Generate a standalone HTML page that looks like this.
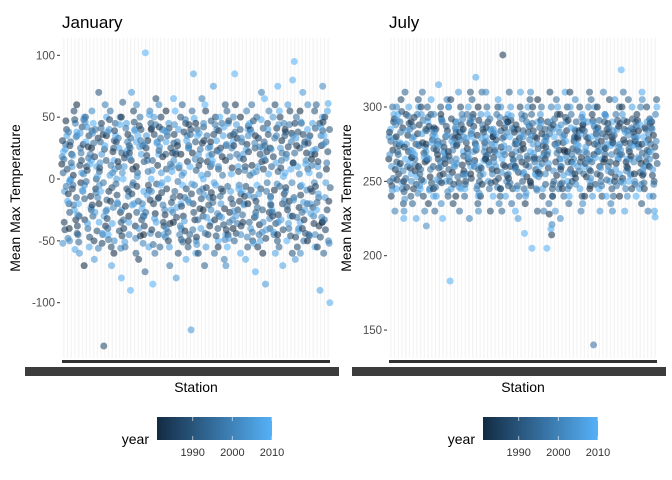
<!DOCTYPE html>
<html><head><meta charset="utf-8"><style>
body{margin:0;background:#fff;}
svg{display:block;font-family:"Liberation Sans",sans-serif;}
</style></head><body>
<svg id="c" width="672" height="480"></svg>
<script>
const years=[1981,1984,1987,1990,1993,1996,1999,2002,2005,2007,2009,2010,1982,1983,1985,1986,1988,1991,1994,1997,2000,2003,2006,2008];
const janTicks=[100,50,0,-50,-100];
const julTicks=[300,250,200,150];
const legendTicks=[1990,2000,2010];
const janTemps=[
[12,-35,40,-20,5,28,-48,18,-10,35,-2,22, 47,-12,31,-41,8,-27,16,-6,38,-52,24,-18],
[-40,20,55,-15,30,-5,45,-50,10,-25,38,0, 3,-33,27,-8,48,-44,13,-21,34,-1,19,-57],
[60,-30,15,48,-45,25,-10,35,-60,5,50,-20, -3,28,-38,11,42,-16,-51,21,4,-29,37,-9],
[-70,10,35,-25,50,-40,20,-5,42,-55,15,30, 26,-14,-33,7,-47,39,-2,17,-23,46,-36,12],
[25,-50,0,70,-30,40,-15,55,-65,10,-35,45, -8,33,-21,18,-42,6,29,-11,-56,37,-27,2],
[-20,45,-135,15,30,-45,60,-5,20,-30,50,-10, 36,-38,9,-52,24,-17,41,-3,-26,13,-44,27],
[35,-10,-55,25,-40,55,5,-25,40,-70,15,-45, -18,22,-32,48,-7,31,-49,11,-23,38,3,-36],
[-60,30,10,-35,45,-20,50,-50,0,25,-80,35, 14,-27,39,-13,-42,21,-4,33,-56,8,-19,44],
[50,-40,20,-10,62,-55,30,-25,10,45,-35,0, -22,36,-46,17,-8,27,-33,41,-14,5,-51,23],
[-30,15,55,-60,25,-5,40,-45,70,-20,30,-90, 8,-38,21,-12,46,-27,33,-3,-48,17,-21,39],
[10,-65,40,-30,5,50,-20,60,-40,20,-10,35, -46,27,-6,43,-33,14,-18,31,-52,2,26,-24],
[-45,25,-5,45,-75,15,55,-30,35,-55,0,102, 31,-17,-38,19,-9,41,-27,6,-44,28,-13,52],
[40,-20,65,-45,15,-60,30,-10,50,-35,20,-85, -28,11,-41,36,-4,23,-53,44,-16,7,-32,29],
[-15,50,-35,20,-55,40,-25,60,5,-45,30,-5, 18,-29,42,-11,-38,8,33,-21,-47,26,-3,39],
[55,-50,25,-15,35,-70,10,-40,45,-25,65,0, -36,21,-8,41,-19,29,-43,12,-27,38,-55,6],
[-35,20,-60,50,-10,30,-45,15,-80,40,-20,55, 27,-14,36,-31,9,-49,22,-2,-38,44,-23,11],
[20,-30,45,-55,60,-15,35,-40,5,-65,25,-5, -42,14,-22,38,-8,27,-51,48,-17,3,-34,31],
[-50,40,-20,30,-45,55,-5,25,-122,85,-60,10, 21,-33,44,-12,-27,7,36,-41,16,-19,-4,49],
[45,-60,15,-30,40,-10,65,-50,20,-40,0,35, -24,29,-47,11,-16,42,-33,24,-8,-53,37,3],
[-25,55,-45,10,-70,35,-15,45,-55,25,-35,60, 14,-38,31,-7,-21,47,-44,4,26,-13,-31,19],
[30,-15,50,-40,20,-60,40,-25,75,-5,-50,15, -33,23,-11,36,-46,8,-19,44,-28,12,-3,31],
[-55,25,-10,60,-30,45,-65,10,-20,35,-45,50, 18,-24,39,-8,-37,27,-14,3,-49,22,-31,42],
[15,-45,35,-20,55,-35,25,-70,45,-10,30,-55, -27,9,-41,47,-16,36,-6,18,-33,28,-48,4],
[-40,60,-25,40,-50,20,-5,50,-30,10,-60,85, 33,-18,27,-44,6,-12,38,-36,17,-26,44,-8],
[50,-35,10,-55,30,-20,55,-45,20,-65,40,-10, -14,28,-38,16,-6,43,-29,7,-47,33,-21,24],
[-20,40,-50,25,-35,60,-15,35,-40,5,-75,45, 11,-31,22,-9,47,-27,3,-43,29,-13,38,-52],
[35,-55,20,-25,50,-45,70,-30,10,-50,25,-5, -37,14,-18,33,-8,41,-23,26,-43,6,-12,48],
[-60,15,45,-40,30,-10,55,-35,-85,40,-20,65, 22,-27,8,-48,36,-14,27,-3,-32,17,-41,4],
[25,-30,60,-50,10,-45,35,-15,50,-60,75,-25, -9,41,-21,18,-36,6,-27,33,-4,24,-43,13],
[-45,50,-20,35,-55,15,45,-35,25,-70,5,55, 31,-12,-29,9,-41,38,-6,21,-17,44,-33,2],
[40,-25,55,-60,20,-40,30,-10,60,-30,80,-50, -18,37,-7,26,-46,13,-22,44,-3,17,-36,8],
[-30,45,-55,25,-15,50,-40,35,-65,10,-35,95, 27,-23,13,-47,38,-6,21,-31,4,-17,33,-42],
[55,-40,30,-20,45,-50,15,-60,70,-25,40,-5, -33,21,-13,36,-44,8,-27,28,-9,46,-19,12],
[-50,35,-10,55,-45,20,-30,60,-20,45,-55,5, 16,-36,29,-8,-23,41,-46,11,-3,33,-28,23],
[20,-55,45,-35,60,-15,35,-45,10,-90,50,-25, -38,27,-6,14,-47,39,-19,3,-31,24,-12,42],
[-35,50,-25,40,-60,30,-50,75,-15,55,-100,35, 8,-18,46,-41,22,-7,-33,13,-52,28,-3,61]];
const julTemps=[
[265,240,290,275,250,300,230,280,260,295,245,285, 271,258,283,247,292,263,277,252,288,268,244,279],
[280,255,305,235,270,290,245,300,260,275,225,295, 262,286,251,274,297,243,268,283,257,291,276,249],
[250,295,270,240,310,260,285,230,275,300,255,265, 281,259,273,246,289,266,252,294,271,238,284,262],
[290,245,275,305,235,265,295,250,280,225,300,270, 257,282,266,293,248,274,287,261,242,279,268,253],
[260,300,240,285,255,310,230,275,295,250,270,245, 276,263,288,251,269,284,258,291,273,247,282,266],
[275,235,295,260,300,245,285,220,265,305,240,290, 253,278,264,287,249,272,293,258,281,266,244,276],
[245,285,265,300,230,275,250,295,240,315,260,280, 268,254,286,271,259,292,246,277,263,283,251,274],
[295,255,280,240,290,265,305,235,270,250,300,225, 262,284,249,273,287,258,276,266,243,291,269,281],
[270,305,235,290,250,280,260,300,245,275,285,183, 256,279,267,292,248,283,264,271,286,253,277,261],
[240,280,300,255,275,230,295,265,310,245,270,290, 283,261,274,249,288,267,253,278,292,262,246,284],
[285,250,265,310,240,295,225,280,255,300,260,245, 272,289,257,276,263,282,248,269,291,254,279,266],
[255,295,275,235,305,260,245,290,270,320,240,280, 264,281,252,287,271,258,293,276,247,284,262,273],
[300,240,285,265,250,310,270,230,295,255,280,260, 248,276,291,259,283,267,254,288,273,242,279,264],
[265,290,230,280,300,245,275,310,250,285,240,295, 271,258,286,263,249,282,268,292,255,277,261,284],
[280,250,300,240,270,295,235,285,260,305,245,275, 257,289,266,278,252,284,271,246,293,263,282,268],
[245,335,260,290,230,280,250,300,270,240,295,265, 286,254,273,261,292,247,279,268,283,256,274,289],
[290,260,245,275,310,235,285,255,300,265,230,280, 268,283,252,291,264,277,249,286,259,272,294,261],
[260,285,300,250,275,240,295,270,225,310,255,245, 279,263,288,256,271,284,247,266,292,258,276,281],
[275,235,265,305,245,290,260,280,240,300,270,215, 253,287,272,261,283,249,294,267,278,256,242,288],
[250,300,280,230,295,265,245,310,275,255,290,205, 266,279,247,284,258,272,289,263,244,281,269,254],
[305,255,240,285,265,300,230,275,295,245,280,260, 282,269,256,291,274,248,286,262,277,253,289,267],
[265,290,310,245,280,235,300,255,270,290,240,205, 228,214,273,259,286,248,268,282,221,277,262,218],
[240,275,295,265,250,305,245,285,230,300,260,280, 254,271,288,263,276,248,292,269,283,257,274,286],
[295,245,270,300,260,240,290,225,280,310,250,265, 271,284,258,276,293,263,249,281,267,288,254,277],
[270,310,250,280,235,295,265,245,300,255,285,240, 263,277,291,258,272,284,247,268,279,256,286,262],
[255,280,300,240,290,270,230,305,260,245,295,275, 284,266,252,279,263,288,271,257,293,248,274,282],
[285,240,265,310,255,280,300,235,270,290,250,260, 253,276,288,262,279,247,284,269,258,291,273,264],
[245,295,275,255,305,140,285,265,240,300,270,280, 268,282,257,291,248,274,263,287,276,252,289,266],
[300,260,240,290,270,250,310,280,230,265,295,245, 277,263,286,254,282,268,291,247,273,284,259,271],
[265,285,305,245,280,260,235,295,275,250,290,240, 283,256,272,289,263,278,251,286,268,294,257,274],
[280,250,270,300,240,295,265,230,305,285,255,275, 262,287,276,253,291,268,281,247,273,284,258,266],
[240,300,285,260,250,310,245,275,295,230,265,325, 278,263,289,252,276,284,268,291,257,271,249,283],
[290,270,245,280,305,255,285,240,265,300,275,250, 267,283,259,276,292,248,272,286,263,281,254,274],
[255,295,265,235,290,275,300,250,280,245,310,240, 284,262,277,291,256,269,287,273,248,279,266,288],
[275,245,300,270,255,285,230,305,260,290,240,280, 263,278,254,286,271,292,249,267,282,258,276,261],
[260,290,250,305,275,240,295,265,285,230,300,270, 281,267,289,254,273,262,286,248,277,291,258,226]];

const NS="http://www.w3.org/2000/svg";
const svg=document.getElementById('c');
function mk(tag,attrs,parent){const e=document.createElementNS(NS,tag);for(const k in attrs)e.setAttribute(k,attrs[k]);(parent||svg).appendChild(e);return e;}
const y0=1981,y1=2010;
function colorFor(yr){const t=Math.max(0,Math.min(1,(yr-y0)/(y1-y0)));const a=[19,43,67],b=[86,177,247];return `rgb(${a.map((v,i)=>Math.round(v+(b[i]-v)*t)).join(',')})`;}

function panel(p){
  const g=mk('g',{});
  
  
  const yS=v=>p.yRef-(v-p.vRef)*p.k;
  const n=p.data.length, bw=(p.x1-p.x0)/n;
  const xS=i=>p.x0+bw*(i+0.5);
  for(let i=0;i<n*2;i++){const x=p.x0+(i+0.5)*(p.x1-p.x0)/(n*2);
    const l=mk('line',{x1:x,x2:x,y1:38,y2:358,stroke:'#f3f3f3','stroke-width':1.2},g);
    }
  const t=mk('text',{x:p.x0,y:28,'font-size':17,fill:'#000'},g);t.textContent=p.title;
  
  p.ticks.forEach(v=>{const y=yS(v);
    const tl=mk('line',{x1:p.x0-5,x2:p.x0-2,y1:y,y2:y,stroke:'#333','stroke-width':1},g);
    
    const tx=mk('text',{x:p.x0-7,y:y+4,'font-size':11.5,fill:'#4d4d4d','text-anchor':'end'},g);tx.textContent=v;
    });
  const yt=mk('text',{x:0,y:0,'font-size':14,fill:'#000','text-anchor':'middle',transform:`translate(${p.yTitleX},198) rotate(-90)`},g);
  yt.textContent='Mean Max Temperature';
  const dots=mk('g',{},g);
  p.data.forEach((row,i)=>row.forEach((v,j)=>{
    const jit=((j*7)%24-11.5)/24*bw*1.1;
    const c=mk('circle',{cx:xS(i)+jit,cy:yS(v),r:3.5,fill:colorFor(years[j]),'fill-opacity':0.58},dots);
    }));
  const xb=mk('rect',{x:p.x0,y:360,width:p.x1-p.x0,height:3,fill:'#333'},g);
  
  const xl=mk('rect',{x:p.x0-37,y:367,width:p.x1-p.x0+46,height:9,fill:'#3c3c3c'},g);
  
  const xt=mk('text',{x:(p.x0+p.x1)/2,y:392,'font-size':14,fill:'#000','text-anchor':'middle'},g);xt.textContent='Station';
  
  const lx=p.legX, lw=115;
  const lg=mk('g',{},g);
  const id='gr'+p.name;
  const defs=mk('defs',{},lg);const gr=mk('linearGradient',{id:id,x1:0,x2:1,y1:0,y2:0},defs);
  mk('stop',{offset:0,'stop-color':colorFor(y0)},gr);mk('stop',{offset:1,'stop-color':colorFor(y1)},gr);
  const lb=mk('rect',{x:lx,y:417,width:lw,height:23,fill:`url(#${id})`},lg);
  
  const lt=mk('text',{x:lx-8,y:444,'font-size':14,fill:'#000','text-anchor':'end'},lg);lt.textContent='year';
  
  legendTicks.forEach(yr=>{const x=lx+(yr-y0)/(y1-y0)*lw;
    mk('line',{x1:x,x2:x,y1:417,y2:421,stroke:'#fff','stroke-opacity':0.6},lg);
    mk('line',{x1:x,x2:x,y1:436,y2:440,stroke:'#fff','stroke-opacity':0.6},lg);
    const tx=mk('text',{x:x,y:456,'font-size':11,fill:'#333','text-anchor':'middle'},lg);tx.textContent=yr;
    });
}
panel({name:'january',title:'January',data:janTemps,ticks:janTicks,x0:62,x1:330,yRef:179,vRef:0,k:1.237,legX:157,yTitleX:20});
panel({name:'july',title:'July',data:julTemps,ticks:julTicks,x0:389,x1:657,yRef:107,vRef:300,k:1.487,legX:483,yTitleX:351});
</script>
</body></html>
